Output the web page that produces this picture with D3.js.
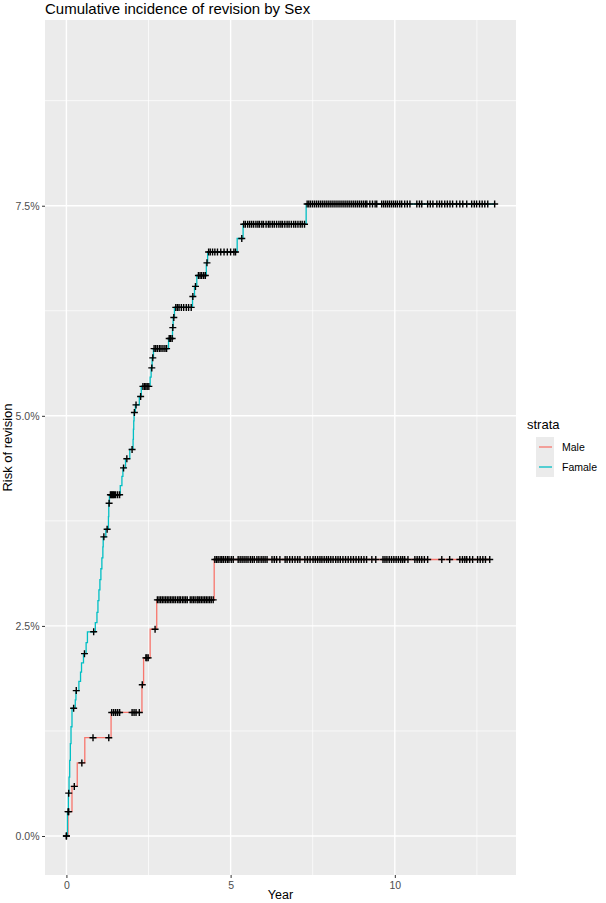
<!DOCTYPE html>
<html>
<head>
<meta charset="utf-8">
<script src="https://cdn.jsdelivr.net/npm/d3@7"></script>
<style>
  body { margin: 0; background: #fff; }
  text { font-family: "Liberation Sans", Arial, Helvetica, sans-serif; }
</style>
</head>
<body>
<div id="chart"></div>
<script>
// strata
var strata = ["Male", "Famale"];
var colors = ["#F8766D", "#00BFC4"];

// event times (years) and cumulative incidence (%) after each event
var maleTimes = [0.05, 0.17, 0.33, 0.56, 1.36, 2.30, 2.35, 2.55, 2.75, 4.50];
var maleRisk  = [0.29, 0.59, 0.87, 1.17, 1.47, 1.80, 2.12, 2.46, 2.81, 3.29];

var femTimes = [0.03, 0.06, 0.08, 0.10, 0.12, 0.14, 0.17, 0.27, 0.29, 0.38,
                0.43, 0.46, 0.52, 0.60, 0.64, 0.88, 0.93, 0.96, 0.99, 1.02,
                1.05, 1.08, 1.11, 1.12, 1.20, 1.28, 1.29, 1.31, 1.64, 1.69,
                1.72, 1.80, 1.93, 2.03, 2.04, 2.05, 2.06, 2.10, 2.22, 2.28,
                2.55, 2.58, 2.61, 2.65, 3.11, 3.23, 3.25, 3.29, 3.84, 3.90,
                3.97, 4.26, 4.30, 5.20, 5.38, 7.30];
var femRisk  = [0.29, 0.51, 0.70, 0.90, 1.10, 1.30, 1.52, 1.62, 1.73, 1.84,
                1.95, 2.06, 2.17, 2.30, 2.43, 2.54, 2.66, 2.80, 2.93, 3.05,
                3.18, 3.31, 3.44, 3.56, 3.65, 3.80, 3.96, 4.06, 4.17, 4.28,
                4.38, 4.49, 4.60, 4.72, 4.84, 4.94, 5.04, 5.13, 5.23, 5.35,
                5.46, 5.57, 5.69, 5.80, 5.92, 6.05, 6.17, 6.29, 6.42, 6.54,
                6.67, 6.82, 6.95, 7.11, 7.28, 7.52];

// censoring times (years)
var maleCensor = [0.00, 0.07, 0.24, 0.47, 0.81, 1.29,
  1.38, 1.44, 1.50, 1.56, 1.62, 2.00, 2.06, 2.12, 2.22, 2.31, 2.42, 2.45, 2.49, 2.70,
  2.77, 2.82, 2.87, 2.92, 2.97, 3.02, 3.07, 3.12, 3.17, 3.22, 3.27, 3.32, 3.38, 3.43, 3.47,
  3.53, 3.58, 3.63, 3.68, 3.77, 3.82, 3.87, 3.92, 3.98, 4.01, 4.06, 4.11, 4.16, 4.21,
  4.26, 4.31, 4.36, 4.41, 4.47,
  4.52, 4.57, 4.62, 4.68, 4.73, 4.78, 4.84, 4.90, 4.95, 5.02, 5.08, 5.23, 5.29, 5.35,
  5.41, 5.47, 5.53, 5.60, 5.66, 5.72, 5.80, 5.86, 5.93, 5.99, 6.05, 6.11, 6.26, 6.33,
  6.40, 6.50, 6.66, 6.72, 6.80, 6.88, 6.96, 7.04, 7.11, 7.26, 7.34, 7.42, 7.51, 7.58,
  7.65, 7.72, 7.78, 7.85, 7.92, 7.98, 8.05, 8.12, 8.20, 8.27, 8.34, 8.42, 8.50, 8.58,
  8.66, 8.74, 8.82, 8.90, 8.98, 9.06, 9.14, 9.30, 9.42, 9.64, 9.70, 9.76, 9.83, 9.90,
  9.97, 10.04, 10.11, 10.18, 10.24, 10.30, 10.40, 10.61, 10.68, 10.75, 10.82, 10.90,
  11.00, 11.43, 11.67, 11.98, 12.06, 12.13, 12.19, 12.28, 12.37, 12.52, 12.60, 12.68,
  12.76, 12.89];
var femCensor = [0.00, 0.05, 0.07, 0.22, 0.30, 0.55, 0.83, 1.14, 1.24, 1.30,
  1.34, 1.37, 1.40, 1.43, 1.46, 1.50, 1.56, 1.62, 1.74, 1.84, 2.00, 2.07, 2.12, 2.26,
  2.33, 2.38, 2.42, 2.46, 2.51, 2.60, 2.63, 2.67, 2.72, 2.77, 2.83, 2.88, 2.94, 3.00,
  3.05, 3.13, 3.17, 3.22, 3.24, 3.27, 3.33, 3.38, 3.43, 3.50, 3.57, 3.65, 3.72, 3.80,
  3.85, 3.93, 4.02, 4.07, 4.12, 4.18, 4.23, 4.28, 4.33, 4.38, 4.45, 4.52, 4.60, 4.70,
  4.80, 4.90, 5.00, 5.10, 5.15, 5.34,
  5.40, 5.45, 5.52, 5.58, 5.64, 5.70, 5.77, 5.83, 5.88, 5.95, 6.00, 6.08, 6.15, 6.20,
  6.27, 6.33, 6.40, 6.47, 6.53, 6.58, 6.65, 6.72, 6.78, 6.85, 6.92, 6.98, 7.05, 7.12,
  7.18, 7.25,
  7.33, 7.38, 7.43, 7.49, 7.55, 7.61, 7.67, 7.73, 7.79, 7.85, 7.91, 7.97, 8.03, 8.09,
  8.15, 8.21, 8.27, 8.33, 8.39, 8.45, 8.51, 8.57, 8.63, 8.69, 8.75, 8.81, 8.87, 8.93,
  8.99, 9.05, 9.11, 9.15, 9.24, 9.32, 9.40, 9.45, 9.60, 9.66, 9.72, 9.78, 9.84, 9.90,
  9.96, 10.02, 10.08, 10.15, 10.21, 10.30, 10.38, 10.46, 10.67, 10.75, 10.82, 11.00,
  11.08, 11.16, 11.28, 11.36, 11.43, 11.52, 11.60, 11.68, 11.76, 11.88, 11.98, 12.07,
  12.19, 12.34, 12.42, 12.49, 12.58, 12.66, 12.74, 12.83, 13.04];

// tick labels
var xTicks = [0, 5, 10];
var xMinor = [2.5, 7.5, 12.5];
var yTicks = [0, 0.025, 0.05, 0.075];
var yMinor = [0.0125, 0.0375, 0.0625, 0.0875];

var W = 606, H = 903;
var panel = {left: 45, right: 516, top: 20, bottom: 875};

var svg = d3.select("#chart")
  .append("svg")
    .attr("width", W)
    .attr("height", H);

var x = d3.scaleLinear()
  .domain([-0.652, 13.69])
  .range([panel.left, panel.right]);

var y = d3.scaleLinear()
  .domain([-0.00464, 0.0971])
  .range([panel.bottom, panel.top]);

// panel background
svg.append("rect")
  .attr("x", panel.left)
  .attr("y", panel.top)
  .attr("width", panel.right - panel.left)
  .attr("height", panel.bottom - panel.top)
  .attr("fill", "#EBEBEB");

// grid
var grid = svg.append("g");
grid.selectAll(".ymin").data(yMinor).enter().append("line")
  .attr("x1", panel.left).attr("x2", panel.right)
  .attr("y1", d => y(d)).attr("y2", d => y(d))
  .attr("stroke", "#fff").attr("stroke-width", 0.7);
grid.selectAll(".xmin").data(xMinor).enter().append("line")
  .attr("y1", panel.top).attr("y2", panel.bottom)
  .attr("x1", d => x(d)).attr("x2", d => x(d))
  .attr("stroke", "#fff").attr("stroke-width", 0.7);
grid.selectAll(".ymaj").data(yTicks).enter().append("line")
  .attr("x1", panel.left).attr("x2", panel.right)
  .attr("y1", d => y(d)).attr("y2", d => y(d))
  .attr("stroke", "#fff").attr("stroke-width", 1.4);
grid.selectAll(".xmaj").data(xTicks).enter().append("line")
  .attr("y1", panel.top).attr("y2", panel.bottom)
  .attr("x1", d => x(d)).attr("x2", d => x(d))
  .attr("stroke", "#fff").attr("stroke-width", 1.4);

// step curves
var series = [
  {name: strata[0], color: colors[0], times: maleTimes, risk: maleRisk, censor: maleCensor},
  {name: strata[1], color: colors[1], times: femTimes, risk: femRisk, censor: femCensor}
];

var line = d3.line()
  .x(d => x(d[0]))
  .y(d => y(d[1]))
  .curve(d3.curveStepAfter);

series.forEach(function (s) {
  var pts = [[0, 0]];
  s.times.forEach((t, i) => pts.push([t, s.risk[i] / 100]));
  pts.push([d3.max(s.censor), s.risk[s.risk.length - 1] / 100]);
  s.pts = pts;
  svg.append("path")
    .datum(pts)
    .attr("d", line)
    .attr("fill", "none")
    .attr("stroke", s.color)
    .attr("stroke-width", 1.3);
});

// censor marks
var bis = d3.bisector(d => d[0]).right;
var marks = svg.append("g");
series.forEach(function (s) {
  s.censor.forEach(function (t) {
    var p = s.pts[Math.max(0, bis(s.pts, t) - 1)];
    var cx = x(t), cy = y(p[1]);
    marks.append("path")
      .attr("d", "M" + (cx - 3.5) + "," + cy + "H" + (cx + 3.5) + "M" + cx + "," + (cy - 3.5) + "V" + (cy + 3.5))
      .attr("stroke", "#000")
      .attr("stroke-width", 1.4);
  });
});

// axes
var xAxis = svg.append("g")
  .attr("transform", "translate(0," + panel.bottom + ")")
  .call(d3.axisBottom(x).tickValues(xTicks).tickSize(3).tickPadding(3.5));
var yAxis = svg.append("g")
  .attr("transform", "translate(" + panel.left + ",0)")
  .call(d3.axisLeft(y).tickValues(yTicks).tickFormat(d3.format(".1%")).tickSize(3).tickPadding(2.5));
[xAxis, yAxis].forEach(function (a) {
  a.select(".domain").remove();
  a.selectAll(".tick line").attr("stroke", "#333");
  a.selectAll(".tick text").attr("fill", "#4D4D4D").style("font-size", "10.5px");
});

// titles
svg.append("text")
  .attr("x", 45).attr("y", 14)
  .style("font-size", "15px")
  .attr("fill", "#000")
  .text("Cumulative incidence of revision by Sex");

svg.append("text")
  .attr("x", (panel.left + panel.right) / 2).attr("y", 899)
  .attr("text-anchor", "middle")
  .style("font-size", "12.5px")
  .text("Year");

svg.append("text")
  .attr("transform", "translate(12," + ((panel.top + panel.bottom) / 2) + ") rotate(-90)")
  .attr("text-anchor", "middle")
  .style("font-size", "13px")
  .text("Risk of revision");

// legend
var lg = svg.append("g").attr("transform", "translate(527,0)");
lg.append("text").attr("x", 0).attr("y", 429).style("font-size", "13px").text("strata");
lg.append("rect").attr("x", 9).attr("y", 437).attr("width", 18).attr("height", 40).attr("fill", "#EBEBEB");
series.forEach(function (s, i) {
  var ly = 447 + i * 20;
  lg.append("line").attr("x1", 12).attr("x2", 25).attr("y1", ly).attr("y2", ly)
    .attr("stroke", s.color).attr("stroke-width", 1.3);
  lg.append("text").attr("x", 35).attr("y", ly + 3.5).style("font-size", "10.5px").text(s.name);
});
</script>
</body>
</html>
